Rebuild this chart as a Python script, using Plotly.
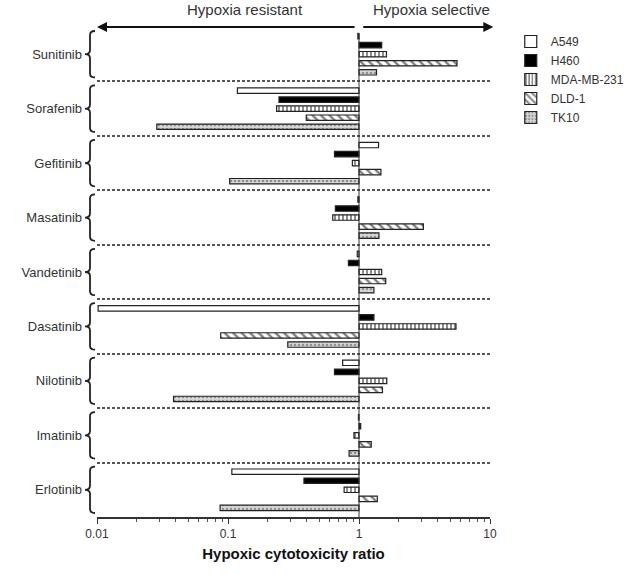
import math

from plotly import graph_objects

drugs = ["Sunitinib", "Sorafenib", "Gefitinib", "Masatinib", "Vandetinib",
         "Dasatinib", "Nilotinib", "Imatinib", "Erlotinib"]
cell_lines = ["A549", "H460", "MDA-MB-231", "DLD-1", "TK10"]

a549 = [0.98, 0.118, 1.41, 0.98, 0.97, 0.0102, 0.75, 0.99, 0.107]
h460 = [1.49, 0.245, 0.65, 0.66, 0.83, 1.30, 0.65, 1.03, 0.38]
mda_mb_231 = [1.62, 0.235, 0.89, 0.63, 1.49, 5.5, 1.63, 0.915, 0.77]
dld_1 = [5.6, 0.396, 1.47, 3.1, 1.6, 0.088, 1.51, 1.24, 1.38]
tk10 = [1.36, 0.0286, 0.103, 1.42, 1.3, 0.286, 0.0384, 0.84, 0.087]

x_ticks = [0.01, 0.1, 1, 10]
x_tick_labels = ["0.01", "0.1", "1", "10"]

font = "Liberation Sans, Arial, sans-serif"

fig_w, fig_h = 629, 574
plot_w, plot_h = 393, 490

# bar fill / pattern per cell line
styles = {
    "A549": dict(color="white", pattern=dict(shape="")),
    "H460": dict(color="black", pattern=dict(shape="")),
    "MDA-MB-231": dict(color="white", pattern=dict(shape="|", fgcolor="black", bgcolor="white",
                                                    size=4, solidity=0.45)),
    "DLD-1": dict(color="white", pattern=dict(shape="\\", fgcolor="black", bgcolor="white",
                                               size=6, solidity=0.4)),
    "TK10": dict(color="#cfcfcf", pattern=dict(shape=".", fgcolor="#4a4a4a", bgcolor="#d8d8d8",
                                                size=4, solidity=0.35)),
}


def brace_path(i: int, n: int) -> str:
    # "[" shaped bracket with a small point in the middle, in paper coords
    top = 1 - i / n - 4 / plot_h
    bot = 1 - (i + 1) / n + 4 / plot_h
    mid = (top + bot) / 2
    xv = -7 / plot_w
    xe = -2 / plot_w
    xt = -12 / plot_w
    r = 4 / plot_h
    return (f"M {xe},{top} Q {xv},{top} {xv},{top - r} L {xv},{mid + r} "
            f"Q {xv},{mid} {xt},{mid} Q {xv},{mid} {xv},{mid - r} "
            f"L {xv},{bot + r} Q {xv},{bot} {xe},{bot}")


fig = graph_objects.Figure()
for name, values in zip(cell_lines, [a549, h460, mda_mb_231, dld_1, tk10]):
    st = styles[name]
    fig.add_trace(graph_objects.Bar(
        y=drugs,
        x=[v - 1 for v in values],
        base=1,
        orientation="h",
        name=name,
        customdata=values,
        hovertemplate="%{y}: %{customdata}<extra>" + name + "</extra>",
        marker=dict(color=st["color"], pattern=st["pattern"],
                    line=dict(color="#222222", width=1.2)),
    ))

shapes = []
for i in range(len(drugs)):
    shapes.append(dict(type="path", xref="paper", yref="paper", path=brace_path(i, len(drugs)),
                       line=dict(color="#222222", width=1.8)))
shapes.append(dict(type="line", xref="x", yref="paper", x0=1, x1=1, y0=0, y1=0.985,
                   line=dict(color="#333333", width=1)))

annotations = [
    dict(x=-2, y=1, xref="x", yref="paper", ax=math.log10(0.95), ay=0, axref="x", ayref="pixel",
         text="", showarrow=True, arrowhead=2, arrowsize=1, arrowwidth=2, arrowcolor="#111111"),
    dict(x=math.log10(10.6), y=1, xref="x", yref="paper", ax=math.log10(1.05), ay=0, axref="x",
         ayref="pixel", text="", showarrow=True, arrowhead=2, arrowsize=1, arrowwidth=2,
         arrowcolor="#111111"),
    dict(x=0.377, y=1.0347, xref="paper", yref="paper", xanchor="center", yanchor="middle",
         text="Hypoxia resistant", showarrow=False, font=dict(size=15, color="#333333")),
    dict(x=0.85, y=1.0347, xref="paper", yref="paper", xanchor="center", yanchor="middle",
         text="Hypoxia selective", showarrow=False, font=dict(size=15, color="#333333")),
]

fig.update_layout(
    width=fig_w, height=fig_h,
    margin=dict(l=97, r=139, t=27, b=57),
    paper_bgcolor="white", plot_bgcolor="white",
    font=dict(family=font, size=13, color="#333333"),
    barmode="group", bargap=0.17, bargroupgap=0.4,
    shapes=shapes, annotations=annotations,
    legend=dict(xref="container", yref="container", x=0.812, y=0.953,
                xanchor="left", yanchor="top", font=dict(size=12),
                bgcolor="rgba(0,0,0,0)", tracegroupgap=6, itemwidth=30),
    showlegend=True,
)
fig.update_xaxes(
    type="log", range=[-2, 1], tickvals=x_ticks, ticktext=x_tick_labels, automargin=False,
    showline=True, linecolor="#333333", linewidth=1.5, showgrid=False, zeroline=False,
    ticks="outside", ticklen=5, tickcolor="#333333", tickfont=dict(size=12, color="#333333"),
    minor=dict(ticks="outside", ticklen=3, tickcolor="#555555", dtick="D1", showgrid=False),
    title=dict(text="<b>Hypoxic cytotoxicity ratio</b>", font=dict(size=15, color="#111111"),
               standoff=8),
)
fig.update_yaxes(
    type="category", categoryorder="array", categoryarray=drugs, autorange="reversed",
    automargin=False, tickson="boundaries", ticks="", showline=False, zeroline=False,
    showgrid=True, griddash="3px,2px", gridcolor="#555555", gridwidth=1.5,
    ticklabelstandoff=14, tickfont=dict(size=13, color="#333333"),
)

# drop the default 8px body margin so the figure fills the window
fig.write_html("out.html", config={"displayModeBar": False},
               post_script="document.body.style.margin='0';")
